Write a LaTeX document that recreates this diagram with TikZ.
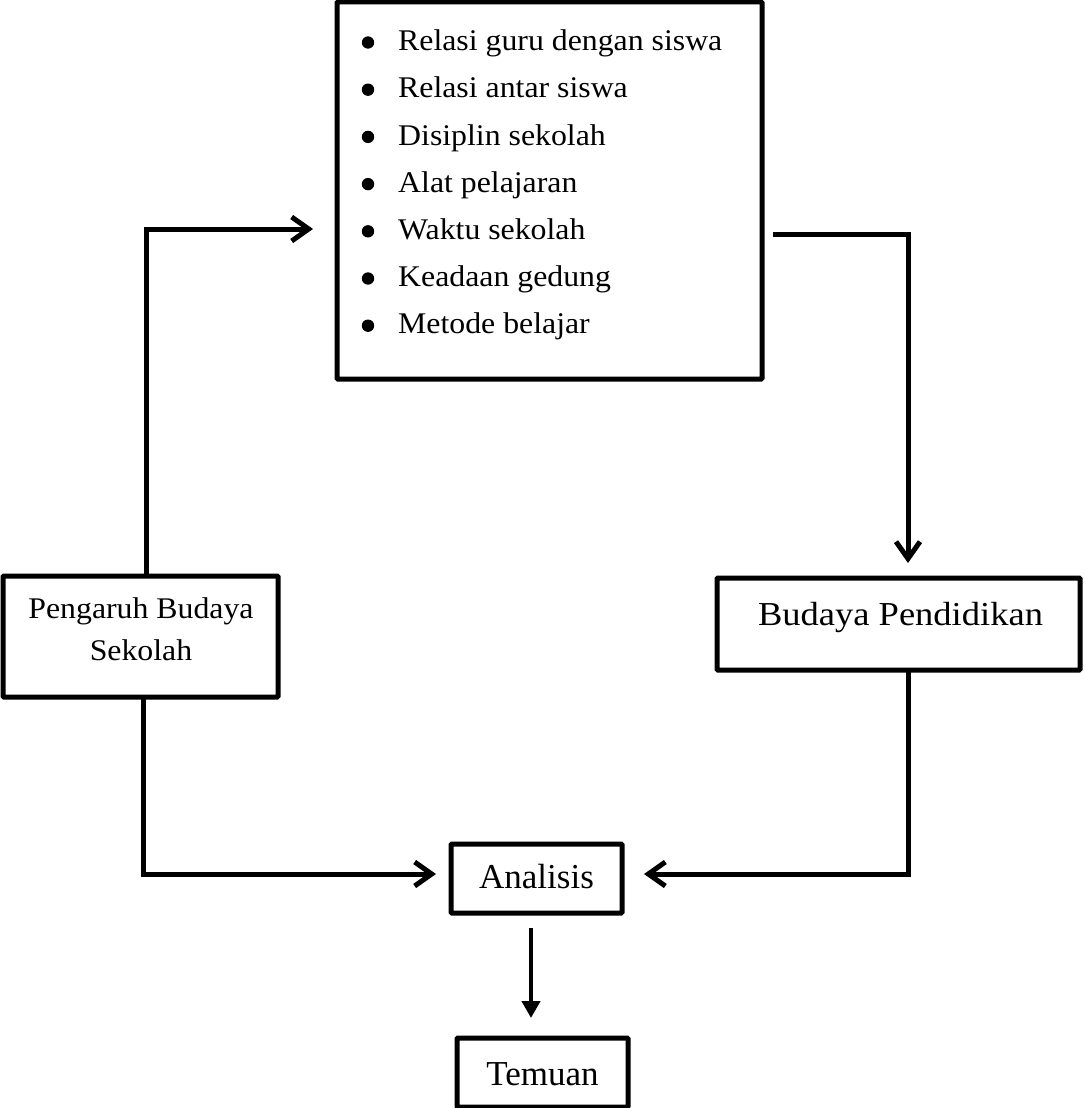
\documentclass[tikz,border=0pt]{standalone}
\usepackage{fontspec}
\setmainfont{Liberation Serif}
\newfontfamily\wideserif{Liberation Serif}[FakeStretch=1.06]
\newfontfamily\widerserif{Liberation Serif}[FakeStretch=1.09]
\usetikzlibrary{arrows.meta}
\begin{document}
\begin{tikzpicture}[x=1pt,y=-1pt,
  box/.style={draw, line width=5pt, rectangle, inner sep=0pt, outer sep=0pt, rounded corners=1pt},
  conn/.style={line width=5pt, line join=miter, -{Straight Barb[length=17pt,width=24pt]}},
  downarr/.style={line width=4.5pt, -{Triangle[length=17pt,width=18pt]}},
  listtxt/.style={inner sep=0pt, anchor=base west, font=\wideserif\fontsize{30}{36}\selectfont},
  smalltxt/.style={inner sep=0pt, anchor=base, font=\wideserif\fontsize{30}{36}\selectfont},
  midtxt/.style={inner sep=0pt, anchor=base, font=\widerserif\fontsize{33.5}{40}\selectfont},
  bigtxt/.style={inner sep=0pt, anchor=base, font=\fontsize{35}{42}\selectfont}
]
\useasboundingbox (0,0) rectangle (1084,1108);
\fill[white] (0,0) rectangle (1084,1108);

% boxes
\node[box, minimum width=425pt, minimum height=377pt] (top) at (549.5,190.5) {};
\node[box, minimum width=275pt, minimum height=121pt] (peng) at (140.5,636.5) {};
\node[box, minimum width=363pt, minimum height=92pt] (bud) at (898.5,624) {};
\node[box, minimum width=171pt, minimum height=69pt] (ana) at (536.5,878.5) {};
\node[box, minimum width=171pt, minimum height=69pt] (tem) at (542.5,1072.5) {};

% list in top box
\foreach \t [count=\i from 0] in {Relasi guru dengan siswa, Relasi antar siswa, Disiplin sekolah, Alat pelajaran, Waktu sekolah, Keadaan gedung, Metode belajar}{
  \fill (368,{42.5+47.2*\i}) circle (6.2pt);
  \node[listtxt] (item\i) at (398,{50.7+47.2*\i}) {\t};
}

% texts
\node[smalltxt] (pengt1) at (141,618) {Pengaruh Budaya};
\node[smalltxt] (pengt2) at (141,660) {Sekolah};
\node[midtxt] (budt) at (900.5,625) {Budaya Pendidikan};
\node[bigtxt] (anat) at (536.5,888) {Analisis};
\node[bigtxt] (temt) at (542.5,1085) {Temuan};

% free connector ends
\coordinate (a1) at (313,229);
\coordinate (b0) at (773,234);
\coordinate (b1) at (908,563);
\coordinate (c1) at (436,874);
\coordinate (d1) at (644,874);
\coordinate (e1) at (531,1018);

% connectors
\draw[conn] ([xshift=5.5pt]peng.north) |- (a1);
\draw[conn] (b0) -| (b1);
\draw[conn] ([xshift=2.5pt]peng.south) |- (c1);
\draw[conn] ([xshift=9.5pt]bud.south) |- (d1);
\draw[downarr] ([xshift=-5.5pt,yshift=-15pt]ana.south) -- (e1);
\end{tikzpicture}
\end{document}
